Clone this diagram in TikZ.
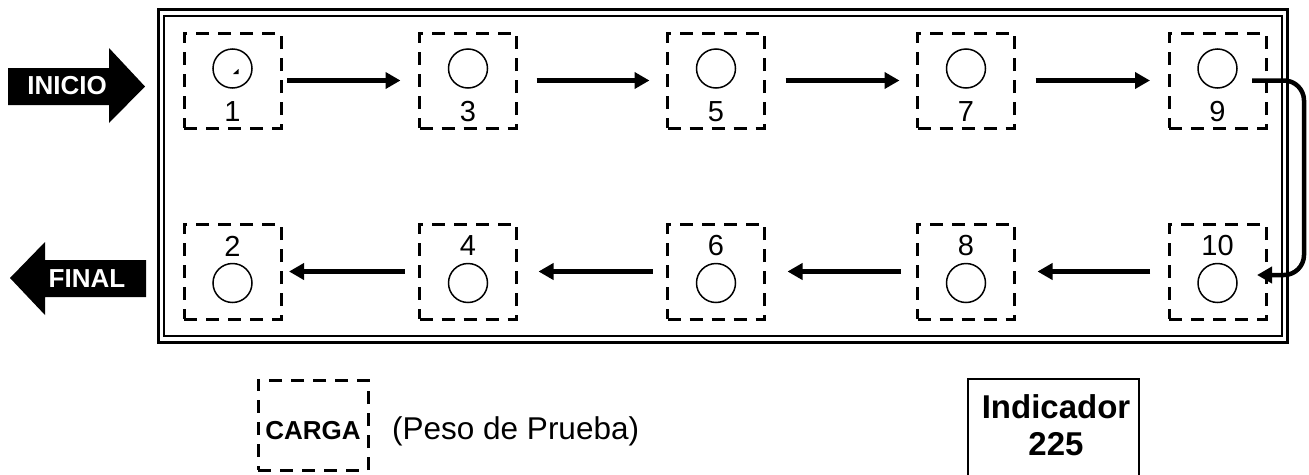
\documentclass[tikz,border=0pt]{standalone}
\usepackage{fontspec}
\setmainfont{Liberation Sans}
\usetikzlibrary{arrows.meta}
\begin{document}
\begin{tikzpicture}[x=1pt,y=-1pt,
  cbox/.style={draw, dash pattern=on 13pt off 9pt, line width=3pt, minimum width=97pt, minimum height=95pt, inner sep=0pt, outer sep=0pt},
  circ/.style={draw, circle, line width=1.5pt, minimum size=39pt, inner sep=0pt, outer sep=0pt},
  num/.style={font=\fontsize{29}{33}\selectfont, inner sep=0pt},
  conn/.style={line width=4.5pt, -{Triangle[length=15pt,width=16pt]}},
  bigarrow/.style={fill=black},
  arrtext/.style={text=white, font=\bfseries\fontsize{26}{30}\selectfont, inner sep=0pt},
]
\useasboundingbox (0,0) rectangle (1309,474);
\clip (0,0) rectangle (1309,474);
% frame
\draw[line width=3pt] (158,9.5) rectangle (1287,342);
\draw[line width=2pt] (164,16) rectangle (1281.5,335.5);
% start / end arrows
\fill[bigarrow] (8,68) -- (109,68) -- (109,48) -- (145,86.5) -- (109,123) -- (109,105) -- (8,105) -- cycle;
\node[arrtext] (inicio) at (67,86) {INICIO};
\fill[bigarrow] (10,278) -- (45,242) -- (45,260) -- (146,260) -- (146,297) -- (45,297) -- (45,315) -- cycle;
\node[arrtext] (final) at (87,279) {FINAL};
% top row
\foreach \n/\x in {1/232.5,3/468,5/716,7/966,9/1217.5}{
  \node[cbox] (b\n) at (\x,80.5) {};
  \node[circ] (c\n) at (\x,68.5) {};
  \node[num] (t\n) at (\x,112) {\n};
}
% bottom row
\foreach \n/\x in {2/232.5,4/468,6/716,8/966,10/1217.5}{
  \node[cbox] (b\n) at (\x,271.5) {};
  \node[circ] (c\n) at (\x,283) {};
  \node[num] (t\n) at (\x,246) {\n};
}
% small mark in circle 1
\fill (233,74) -- (238.5,74) -- (238.5,69) -- cycle;
% connectors
\draw[conn, shorten <=6pt, shorten >=19pt] (b1.east) -- (b3.west);
\draw[conn, shorten <=20pt, shorten >=18pt] (b3.east) -- (b5.west);
\draw[conn, shorten <=21pt, shorten >=18pt] (b5.east) -- (b7.west);
\draw[conn, shorten <=21pt, shorten >=19pt] (b7.east) -- (b9.west);
\coordinate (turn) at (1304,178);
\draw[conn, rounded corners=20pt] ([xshift=-14pt]b9.east) -| (turn) |- ([xshift=-9pt,yshift=-3.5pt]b10.east);
\draw[conn, shorten <=19pt, shorten >=23pt] (b10.west) -- (b8.east);
\draw[conn, shorten <=17pt, shorten >=23pt] (b8.west) -- (b6.east);
\draw[conn, shorten <=15pt, shorten >=22pt] (b6.west) -- (b4.east);
\draw[conn, shorten <=15pt, shorten >=8pt] (b4.west) -- (b2.east);
% legend
\node[draw, dash pattern=on 13pt off 9pt, line width=3pt, minimum width=110pt, minimum height=90pt, inner sep=0pt, outer sep=0pt] (carga) at (313,425) {};
\node[font=\bfseries\fontsize{26}{30}\selectfont, inner sep=0pt] (cargat) at (313,431) {CARGA};
\node[font=\fontsize{31.5}{36}\selectfont, inner sep=0pt, anchor=west] (peso) at (392,431) {(Peso de Prueba)};
\draw[line width=2pt] (968,480) |- (1139,379) -- (1139,480);
\node[font=\bfseries\fontsize{33}{37}\selectfont, align=center, inner sep=0pt] (ind) at (1056,425) {Indicador\\225};
\end{tikzpicture}
\end{document}
